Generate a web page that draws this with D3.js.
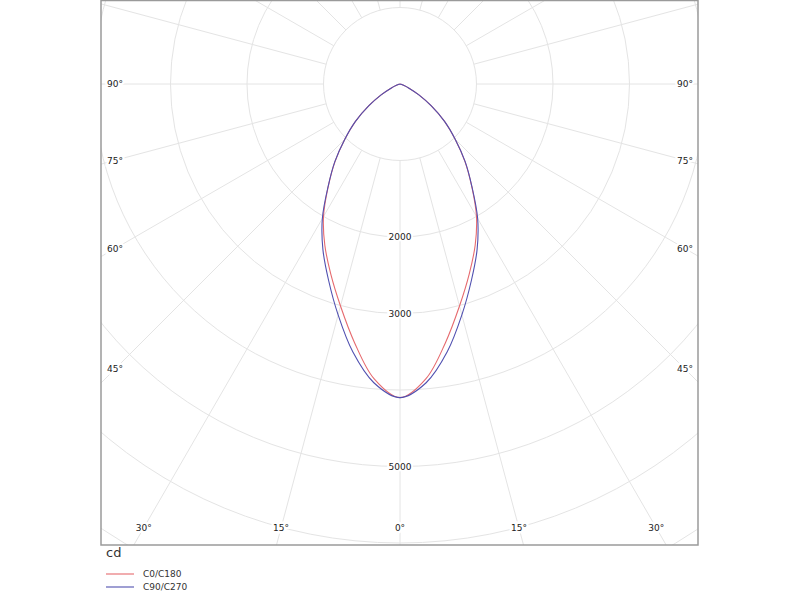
<!DOCTYPE html>
<html>
<head>
<meta charset="utf-8">
<script src="https://cdn.jsdelivr.net/npm/d3@7"></script>
<style>
  body { margin: 0; background: #fff; }
  text { font-family: Tahoma, 'DejaVu Sans', sans-serif; }
</style>
</head>
<body>
<script>
// gamma angles (deg from nadir) and intensities in cd
const gammas = [0, 5, 10, 15, 20, 25, 30, 35, 40, 45, 50, 55, 60, 65, 70, 75, 80, 85, 90]
const c0c180 = [4100, 3870, 3430, 3005, 2645, 2325, 2000, 1635, 1320, 1020, 760, 500, 285, 130, 50, 15, 0, 0, 0]
const c90c270 = [4100, 3920, 3555, 3125, 2730, 2385, 2030, 1640, 1325, 1020, 760, 500, 285, 130, 50, 15, 0, 0, 0]

const rings = [1000, 2000, 3000, 4000, 5000, 6000, 7000]
const ringLabels = [2000, 3000, 5000]
const spokes = d3.range(0, 360, 15)
const sideLabels = [90, 75, 60, 45]
const bottomLabels = [30, 15, 0]
const series = [
  { name: 'C0/C180', values: c0c180, color: '#e66a6e' },
  { name: 'C90/C270', values: c90c270, color: '#5050b0' }
]

const WIDTH = 800
const HEIGHT = 600
const frame = { x: 101, y: 0, w: 597, h: 545 }
const cx = 400
const cy = 84

const r = d3.scaleLinear().domain([0, 5000]).range([0, 382.5])
const rad = d => d * Math.PI / 180

const svg = d3.select(document.body).append('svg')
  .attr('width', WIDTH)
  .attr('height', HEIGHT)

svg.append('rect').attr('width', WIDTH).attr('height', HEIGHT).attr('fill', '#fff')

svg.append('clipPath').attr('id', 'clip')
  .append('rect')
  .attr('x', frame.x).attr('y', frame.y)
  .attr('width', frame.w).attr('height', frame.h)

const plot = svg.append('g').attr('clip-path', 'url(#clip)')
const g = plot.append('g').attr('transform', `translate(${cx},${cy})`)

// grid rings
g.selectAll('circle.ring')
  .data(rings)
  .enter()
  .append('circle')
  .attr('class', 'ring')
  .attr('r', d => r(d))
  .attr('fill', 'none')
  .attr('stroke', '#e4e4e4')
  .attr('stroke-width', 1)

// spokes, from 1000 cd outwards (angle measured from nadir)
g.selectAll('line.spoke')
  .data(spokes)
  .enter()
  .append('line')
  .attr('class', 'spoke')
  .attr('x1', d => -Math.sin(rad(d)) * r(1000))
  .attr('y1', d => Math.cos(rad(d)) * r(1000))
  .attr('x2', d => -Math.sin(rad(d)) * r(9000))
  .attr('y2', d => Math.cos(rad(d)) * r(9000))
  .attr('stroke', '#e4e4e4')
  .attr('stroke-width', 1)

// ring labels
g.selectAll('text.ringlab')
  .data(ringLabels)
  .enter()
  .append('text')
  .attr('class', 'ringlab')
  .attr('x', 0)
  .attr('y', d => r(d))
  .attr('dy', '0.35em')
  .attr('text-anchor', 'middle')
  .attr('font-size', 9)
  .attr('fill', '#222')
  .attr('stroke', '#fff')
  .attr('stroke-width', 4)
  .attr('paint-order', 'stroke')
  .text(d => d)

// curves
const line = d3.lineRadial()
  .angle(d => d[0])
  .radius(d => r(d[1]))
  .curve(d3.curveCatmullRom)

series.forEach(s => {
  const pts = []
  for (let i = gammas.length - 1; i >= 0; i--) pts.push([Math.PI + rad(gammas[i]), s.values[i]])
  for (let i = 1; i < gammas.length; i++) pts.push([Math.PI - rad(gammas[i]), s.values[i]])
  g.append('path')
    .attr('d', line(pts))
    .attr('fill', 'none')
    .attr('stroke', s.color)
    .attr('stroke-width', 1.1)
})

// angle labels where the spokes meet an inset box
const inset = { left: 115 - cx, right: 685 - cx, bottom: 528 - cy }
const labels = []
sideLabels.forEach(a => {
  const t = Math.tan(rad(90 - a))
  labels.push({ a, x: inset.left, y: -inset.left * t })
  labels.push({ a, x: inset.right, y: inset.right * t })
})
bottomLabels.forEach(a => {
  const dx = inset.bottom * Math.tan(rad(a))
  labels.push({ a, x: -dx, y: inset.bottom })
  if (a > 0) labels.push({ a, x: dx, y: inset.bottom })
})

g.selectAll('text.anglab')
  .data(labels)
  .enter()
  .append('text')
  .attr('class', 'anglab')
  .attr('x', d => d.x)
  .attr('y', d => d.y)
  .attr('dy', '0.35em')
  .attr('text-anchor', 'middle')
  .attr('font-size', 9)
  .attr('fill', '#222')
  .attr('stroke', '#fff')
  .attr('stroke-width', 5)
  .attr('paint-order', 'stroke')
  .text(d => d.a + '°')

// frame
svg.append('rect')
  .attr('x', frame.x).attr('y', frame.y + 0.5)
  .attr('width', frame.w).attr('height', frame.h - 0.5)
  .attr('fill', 'none')
  .attr('stroke', '#9a9a9a')
  .attr('stroke-width', 1.5)

// unit + legend
svg.append('text')
  .attr('x', 106).attr('y', 557)
  .attr('font-size', 13)
  .attr('fill', '#333')
  .text('cd')

const legend = svg.append('g')
  .selectAll('g')
  .data(series)
  .enter()
  .append('g')
  .attr('transform', (d, i) => `translate(106,${574 + i * 13})`)

legend.append('line')
  .attr('x1', 0).attr('x2', 28)
  .attr('stroke', d => d.color)
  .attr('stroke-width', 1.1)

legend.append('text')
  .attr('x', 37)
  .attr('dy', '0.35em')
  .attr('font-size', 9)
  .attr('fill', '#333')
  .text(d => d.name)
</script>
</body>
</html>
